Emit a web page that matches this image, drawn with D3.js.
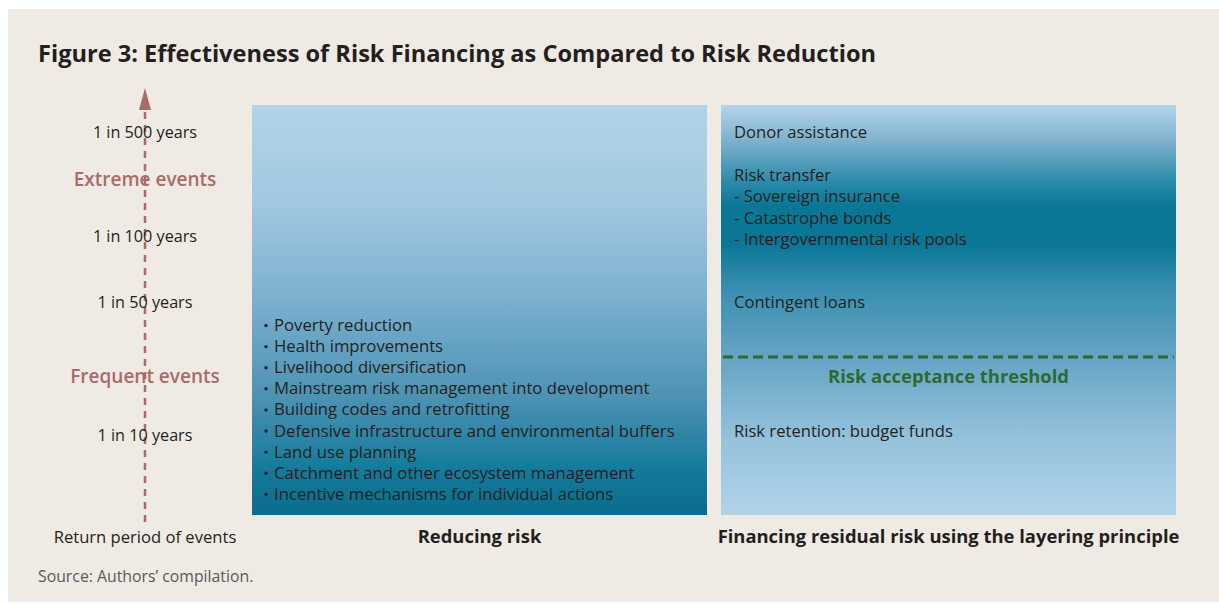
<!DOCTYPE html>
<html>
<head>
<meta charset="utf-8">
<script src="https://cdn.jsdelivr.net/npm/d3@7"></script>
<style>
  html, body { margin: 0; padding: 0; background: #fff; }
  svg { display: block; }
</style>
</head>
<body>
<div id="chart"></div>
<script>
// Figure content
const title = 'Figure 3: Effectiveness of Risk Financing as Compared to Risk Reduction';
const source = 'Source: Authors\u2019 compilation.';
const axisTitle = 'Return period of events';

// return periods (years) shown on the vertical arrow, top to bottom
const returnPeriods = [500, 100, 50, 10];
const eventClasses = ['Extreme events', 'Frequent events'];

const panelTitles = ['Reducing risk', 'Financing residual risk using the layering principle'];

const reducingItems = [
    'Poverty reduction',
    'Health improvements',
    'Livelihood diversification',
    'Mainstream risk management into development',
    'Building codes and retrofitting',
    'Defensive infrastructure and environmental buffers',
    'Land use planning',
    'Catchment and other ecosystem management',
    'Incentive mechanisms for individual actions'
];

const transferItems = ['Sovereign insurance', 'Catastrophe bonds', 'Intergovernmental risk pools'];
const financingLayers = ['Donor assistance', 'Risk transfer', 'Contingent loans', 'Risk retention: budget funds'];
const thresholdLabel = 'Risk acceptance threshold';

// Layout
const width = 1219, height = 604;
const font = '"Open Sans", "Noto Sans", sans-serif';
const textColor = '#231f20';
const arrowColor = '#a96c6a';
const thresholdColor = '#2c6a33';

const svg = d3.select('#chart').append('svg')
    .attr('width', width)
    .attr('height', height);

// background
svg.append('rect').attr('width', width).attr('height', height).attr('fill', '#fff');
svg.append('rect')
    .attr('x', 8).attr('y', 9)
    .attr('width', width - 8).attr('height', height - 11)
    .attr('fill', '#efeae4');

// vertical position of the rows on the return period axis
const yRow = d3.scaleOrdinal()
    .domain(['500', 'Extreme events', '100', '50', 'Frequent events', '10'])
    .range([138, 186, 242, 308, 383, 441]);

// panels
const xPanel = d3.scaleBand()
    .domain(panelTitles)
    .range([252, 1176])
    .paddingInner(14 / 469);
const panelTop = 105, panelBottom = 515;

const defs = svg.append('defs');

function addGradient(id, stops) {
    const g = defs.append('linearGradient')
        .attr('id', id)
        .attr('gradientUnits', 'userSpaceOnUse')
        .attr('x1', 0).attr('x2', 0)
        .attr('y1', panelTop).attr('y2', panelBottom);
    g.selectAll('stop')
        .data(stops)
        .enter()
        .append('stop')
        .attr('offset', d => (d[0] - panelTop) / (panelBottom - panelTop))
        .attr('stop-color', d => d[1]);
}

addGradient('grad-reduce', [
    [105, '#b0d3ea'],
    [200, '#a2c9e1'],
    [300, '#7bb0cf'],
    [400, '#4b91b2'],
    [470, '#137a9b'],
    [515, '#0b6c8c']
]);
addGradient('grad-finance', [
    [105, '#b3d5eb'],
    [140, '#80b2ce'],
    [180, '#2e8cab'],
    [205, '#0b7797'],
    [245, '#0b7797'],
    [290, '#3a8fb0'],
    [357, '#65a4c3'],
    [440, '#95c2dc'],
    [515, '#b1d4ea']
]);

svg.selectAll('.panel')
    .data(panelTitles)
    .enter()
    .append('rect')
    .attr('class', 'panel')
    .attr('x', d => xPanel(d))
    .attr('y', panelTop)
    .attr('width', xPanel.bandwidth())
    .attr('height', panelBottom - panelTop)
    .attr('fill', (d, i) => i === 0 ? 'url(#grad-reduce)' : 'url(#grad-finance)');

// panel captions
svg.selectAll('.panel-title')
    .data(panelTitles)
    .enter()
    .append('text')
    .attr('class', 'panel-title')
    .attr('x', d => xPanel(d) + xPanel.bandwidth() / 2)
    .attr('y', 543)
    .attr('text-anchor', 'middle')
    .attr('font-family', font)
    .attr('font-weight', 'bold')
    .attr('font-size', '18.4px')
    .attr('fill', textColor)
    .text(d => d);

// title
svg.append('text')
    .attr('x', 38).attr('y', 62)
    .attr('font-family', font)
    .attr('font-weight', 'bold')
    .attr('font-size', '23.6px')
    .attr('fill', textColor)
    .text(title);

// source
svg.append('text')
    .attr('x', 38).attr('y', 582)
    .attr('font-family', font)
    .attr('font-size', '15.8px')
    .attr('fill', '#58595b')
    .text(source);

// return period arrow
const arrowX = 145;
svg.append('line')
    .attr('x1', arrowX).attr('x2', arrowX)
    .attr('y1', 522).attr('y2', 106)
    .attr('stroke', arrowColor)
    .attr('stroke-width', 2.5)
    .attr('stroke-dasharray', '7,6');
svg.append('path')
    .attr('d', `M${arrowX},88 L${arrowX - 6},110 L${arrowX + 6},110 Z`)
    .attr('fill', arrowColor);

svg.selectAll('.period')
    .data(returnPeriods)
    .enter()
    .append('text')
    .attr('class', 'period')
    .attr('x', arrowX)
    .attr('y', d => yRow(String(d)))
    .attr('text-anchor', 'middle')
    .attr('font-family', font)
    .attr('font-size', '16.2px')
    .attr('fill', textColor)
    .text(d => `1 in ${d} years`);

svg.selectAll('.event-class')
    .data(eventClasses)
    .enter()
    .append('text')
    .attr('class', 'event-class')
    .attr('x', arrowX)
    .attr('y', d => yRow(d))
    .attr('text-anchor', 'middle')
    .attr('font-family', font)
    .attr('font-weight', 600)
    .attr('font-size', '19px')
    .attr('fill', arrowColor)
    .text(d => d);

svg.append('text')
    .attr('x', arrowX).attr('y', 543)
    .attr('text-anchor', 'middle')
    .attr('font-family', font)
    .attr('font-size', '16.6px')
    .attr('fill', textColor)
    .text(axisTitle);

// reducing risk bullets
const lineH = 21.1;
const xLeft = xPanel(panelTitles[0]);
const bullets = svg.append('g')
    .attr('font-family', font)
    .attr('font-size', '16.7px')
    .attr('fill', textColor);
const bulletRows = bullets.selectAll('g')
    .data(reducingItems)
    .enter()
    .append('g')
    .attr('transform', (d, i) => `translate(${xLeft},${331 + i * lineH})`);
bulletRows.append('circle')
    .attr('cx', 14).attr('cy', -5.5)
    .attr('r', 1.7);
bulletRows.append('text')
    .attr('x', 22)
    .text(d => d);

// financing layers
const xRight = xPanel(panelTitles[1]) + 13;
const fin = svg.append('g')
    .attr('font-family', font)
    .attr('font-size', '16.6px')
    .attr('fill', textColor);

const finLines = [
    { text: financingLayers[0], y: yRow('500') },
    { text: financingLayers[1], y: 181 }
].concat(transferItems.map((t, i) => ({ text: '- ' + t, y: 181 + (i + 1) * 21.3 })))
 .concat([
    { text: financingLayers[2], y: yRow('50') },
    { text: financingLayers[3], y: 437 }
 ]);

fin.selectAll('text')
    .data(finLines)
    .enter()
    .append('text')
    .attr('x', xRight)
    .attr('y', d => d.y)
    .text(d => d.text);

// risk acceptance threshold
const xR0 = xPanel(panelTitles[1]);
svg.append('line')
    .attr('x1', xR0 + 2).attr('x2', xR0 + xPanel.bandwidth() - 2)
    .attr('y1', 357).attr('y2', 357)
    .attr('stroke', thresholdColor)
    .attr('stroke-width', 3)
    .attr('stroke-dasharray', '10,5');
svg.append('text')
    .attr('x', xR0 + xPanel.bandwidth() / 2)
    .attr('y', 383)
    .attr('text-anchor', 'middle')
    .attr('font-family', font)
    .attr('font-weight', 'bold')
    .attr('font-size', '18.4px')
    .attr('fill', thresholdColor)
    .text(thresholdLabel);
</script>
</body>
</html>
